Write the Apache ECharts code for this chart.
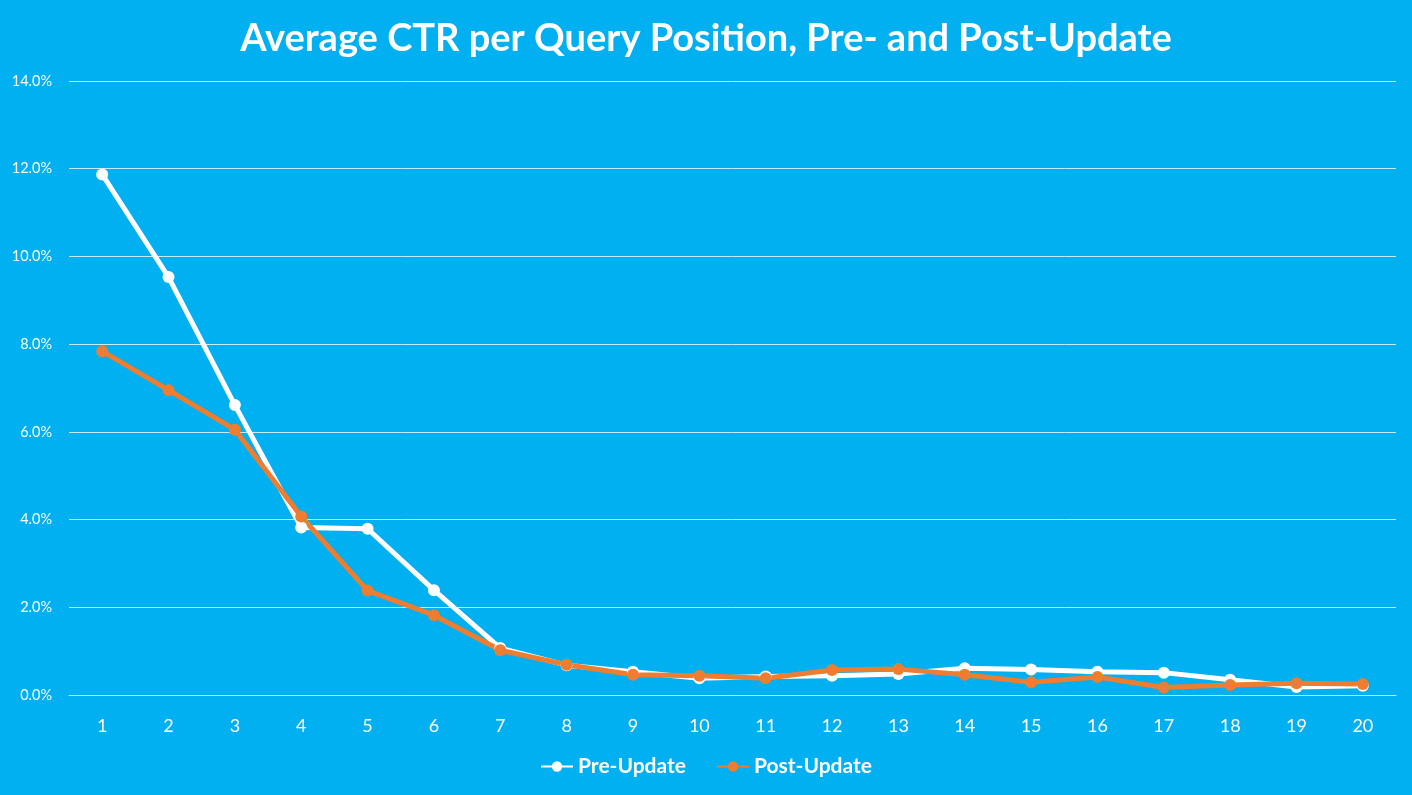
<!DOCTYPE html>
<html><head><meta charset="utf-8">
<script src="https://cdn.jsdelivr.net/npm/echarts@6/dist/echarts.min.js"></script>
<style>html,body{margin:0;padding:0;background:#00B0F0;}#c{width:1412px;height:795px;}</style>
</head><body><div id="c"></div>
<script>
const positions = ['1','2','3','4','5','6','7','8','9','10','11','12','13','14','15','16','17','18','19','20'];
const preUpdate = [11.87, 9.53, 6.61, 3.82, 3.79, 2.39, 1.07, 0.68, 0.53, 0.38, 0.42, 0.44, 0.48, 0.61, 0.58, 0.53, 0.51, 0.35, 0.18, 0.21];
const postUpdate = [7.84, 6.95, 6.05, 4.07, 2.38, 1.82, 1.02, 0.69, 0.46, 0.44, 0.38, 0.57, 0.59, 0.46, 0.29, 0.41, 0.17, 0.23, 0.27, 0.25];
const chart = echarts.init(document.getElementById('c'));
chart.setOption({
  backgroundColor: '#00B0F0',
  animation: false,
  title: {
    text: 'Average CTR per Query Position, Pre- and Post-Update',
    left: 'center', top: 15,
    textStyle: { color: '#fff', fontSize: 38, fontWeight: 'bold', fontFamily: 'Lato' }
  },
  legend: {
    bottom: 13, left: 'center', itemGap: 30, itemWidth: 32, itemHeight: 13,
    textStyle: { color: '#fff', fontSize: 21, fontWeight: 'bold', fontFamily: 'Lato' },
    data: ['Pre-Update', 'Post-Update']
  },
  grid: { left: 69, right: 16, top: 81, bottom: 100 },
  xAxis: {
    type: 'category', data: positions, boundaryGap: true,
    axisLine: { show: true, lineStyle: { color: '#C6ECFC', width: 1 } },
    axisTick: { show: false },
    axisLabel: { color: '#fff', fontSize: 18, margin: 22, fontFamily: 'Lato' }
  },
  yAxis: {
    type: 'value', min: 0, max: 14, interval: 2,
    axisLine: { show: false }, axisTick: { show: false },
    axisLabel: { color: '#fff', fontSize: 14.5, margin: 17, fontFamily: 'Lato', formatter: v => v.toFixed(1) + '%' },
    splitLine: { lineStyle: { color: '#C6ECFC', width: 1 } }
  },
  series: [
    { name: 'Pre-Update', type: 'line', data: preUpdate, color: '#FFFFFF',
      symbol: 'circle', symbolSize: 12, lineStyle: { width: 5, color: '#FFFFFF' },
      itemStyle: { color: '#FFFFFF' } },
    { name: 'Post-Update', type: 'line', data: postUpdate, color: '#ED7D31',
      symbol: 'circle', symbolSize: 12, lineStyle: { width: 5, color: '#ED7D31' },
      itemStyle: { color: '#ED7D31' } }
  ]
});
</script></body></html>
